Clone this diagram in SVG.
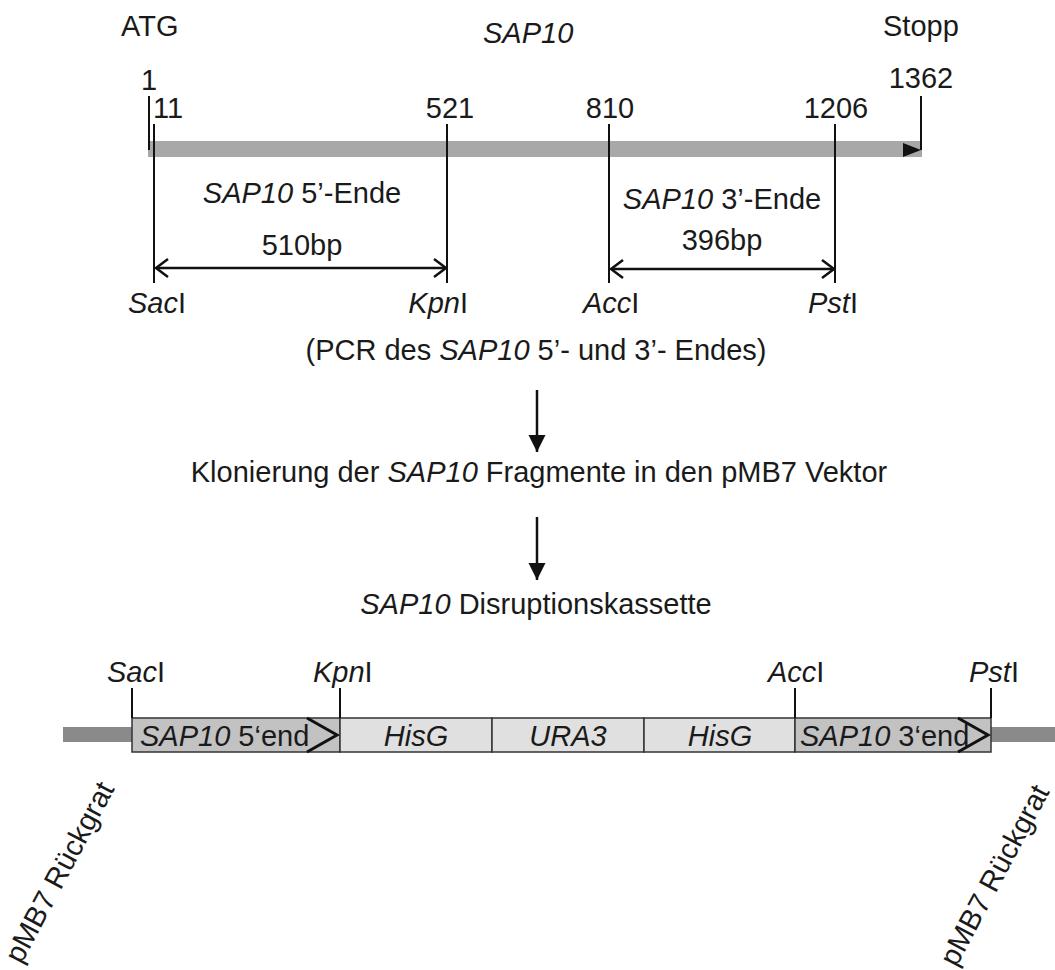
<svg xmlns="http://www.w3.org/2000/svg" width="1055" height="970" viewBox="0 0 1055 970">
<style>
text{font-family:"Liberation Sans",Arial,sans-serif;font-size:29px;fill:#1a1a1a}
.i{font-style:italic}
.m{text-anchor:middle}
.tick{stroke:#111;stroke-width:2}
.conn{stroke:#111;stroke-width:2.5;fill:none}
.box{stroke:#333;stroke-width:1.5}
.dark{fill:#c2c2c2}
.light{fill:#e0e0e0}
.chev{stroke:#111;stroke-width:3;fill:none}
.bb{fill:#8a8a8a}
</style>
<defs>
<marker id="open" markerUnits="userSpaceOnUse" markerWidth="16" markerHeight="22" refX="13" refY="10" orient="auto-start-reverse" overflow="visible">
<path d="M1,1 L13,10 L1,19" stroke="#111" stroke-width="2.5" fill="none"/>
</marker>
<marker id="fill" markerUnits="userSpaceOnUse" markerWidth="17" markerHeight="18" refX="17" refY="8.5" orient="auto" overflow="visible">
<path d="M0,0 L17,8.5 L0,17 z" fill="#111"/>
</marker>
</defs>

<g id="gene">
<rect x="148" y="141" width="774" height="16" fill="#a8a8a8"/>
<polygon points="903,143 921,150 903,157" fill="#111"/>
</g>

<g id="top-labels">
<text x="121" y="36">ATG</text>
<text x="483" y="43" class="i">SAP10</text>
<text x="883" y="36">Stopp</text>
<text x="149" y="90" class="m">1</text>
<text x="153" y="118">11</text>
<text x="450" y="118" class="m">521</text>
<text x="610" y="118" class="m">810</text>
<text x="836" y="118" class="m">1206</text>
<text x="921" y="88" class="m">1362</text>
</g>

<g id="ticks">
<line class="tick" x1="149" y1="96" x2="149" y2="150"/>
<line class="tick" x1="154" y1="124" x2="154" y2="283"/>
<line class="tick" x1="447" y1="124" x2="447" y2="283"/>
<line class="tick" x1="609" y1="124" x2="609" y2="283"/>
<line class="tick" x1="835" y1="124" x2="835" y2="283"/>
<line class="tick" x1="921" y1="96" x2="921" y2="150"/>
</g>

<g id="fragment5">
<text x="302" y="203" class="m"><tspan class="i">SAP10</tspan> 5’-Ende</text>
<text x="302" y="255" class="m">510bp</text>
</g>
<g id="fragment3">
<text x="722" y="209" class="m"><tspan class="i">SAP10</tspan> 3’-Ende</text>
<text x="722" y="250" class="m">396bp</text>
</g>

<g id="sites-top">
<text x="128" y="313"><tspan class="i">Sac</tspan>I</text>
<text x="468" y="313" text-anchor="end"><tspan class="i">Kpn</tspan>I</text>
<text x="583" y="313"><tspan class="i">Acc</tspan>I</text>
<text x="858" y="313" text-anchor="end"><tspan class="i">Pst</tspan>I</text>
</g>

<g id="step1"><text x="536" y="360" class="m">(PCR des <tspan class="i">SAP10</tspan> 5’- und 3’- Endes)</text></g>
<g id="step2"><text x="539" y="482" class="m">Klonierung der <tspan class="i">SAP10</tspan> Fragmente in den pMB7 Vektor</text></g>
<g id="step3"><text x="536" y="614" class="m"><tspan class="i">SAP10</tspan> Disruptionskassette</text></g>

<g id="connectors">
<line class="conn" x1="156" y1="268" x2="446" y2="268" marker-start="url(#open)" marker-end="url(#open)"/>
<line class="conn" x1="611" y1="269" x2="834" y2="269" marker-start="url(#open)" marker-end="url(#open)"/>
<line class="conn" x1="537" y1="390" x2="537" y2="452" marker-end="url(#fill)"/>
<line class="conn" x1="537" y1="517" x2="537" y2="580" marker-end="url(#fill)"/>
</g>

<g id="cassette">
<rect class="bb" x="63" y="727" width="70" height="15"/>
<rect class="bb" x="991" y="727" width="64" height="15"/>
<rect class="box dark" x="132" y="718" width="208" height="34"/>
<rect class="box light" x="340" y="718" width="152" height="34"/>
<rect class="box light" x="492" y="718" width="152" height="34"/>
<rect class="box light" x="644" y="718" width="151" height="34"/>
<rect class="box dark" x="795" y="718" width="196" height="34"/>
<path class="chev" d="M307,718 L337,735 L307,752"/>
<path class="chev" d="M958,718 L988,735 L958,752"/>
<text x="140" y="746"><tspan class="i">SAP10</tspan> 5‘end</text>
<text x="416" y="746" class="m i">HisG</text>
<text x="568" y="746" class="m i">URA3</text>
<text x="720" y="746" class="m i">HisG</text>
<text x="800" y="746"><tspan class="i">SAP10</tspan> 3‘end</text>
</g>

<g id="sites-bottom">
<line class="tick" x1="132" y1="688" x2="132" y2="718"/>
<line class="tick" x1="340" y1="688" x2="340" y2="718"/>
<line class="tick" x1="795" y1="688" x2="795" y2="718"/>
<line class="tick" x1="991" y1="688" x2="991" y2="718"/>
<text x="107" y="682"><tspan class="i">Sac</tspan>I</text>
<text x="313" y="682"><tspan class="i">Kpn</tspan>I</text>
<text x="768" y="682"><tspan class="i">Acc</tspan>I</text>
<text x="969" y="682"><tspan class="i">Pst</tspan>I</text>
</g>

<g id="backbone-left"><text class="m" transform="translate(61,873) rotate(-62)" x="0" y="8">pMB7 Rückgrat</text></g>
<g id="backbone-right"><text class="m" transform="translate(996,876) rotate(-62)" x="0" y="8">pMB7 Rückgrat</text></g>
</svg>
